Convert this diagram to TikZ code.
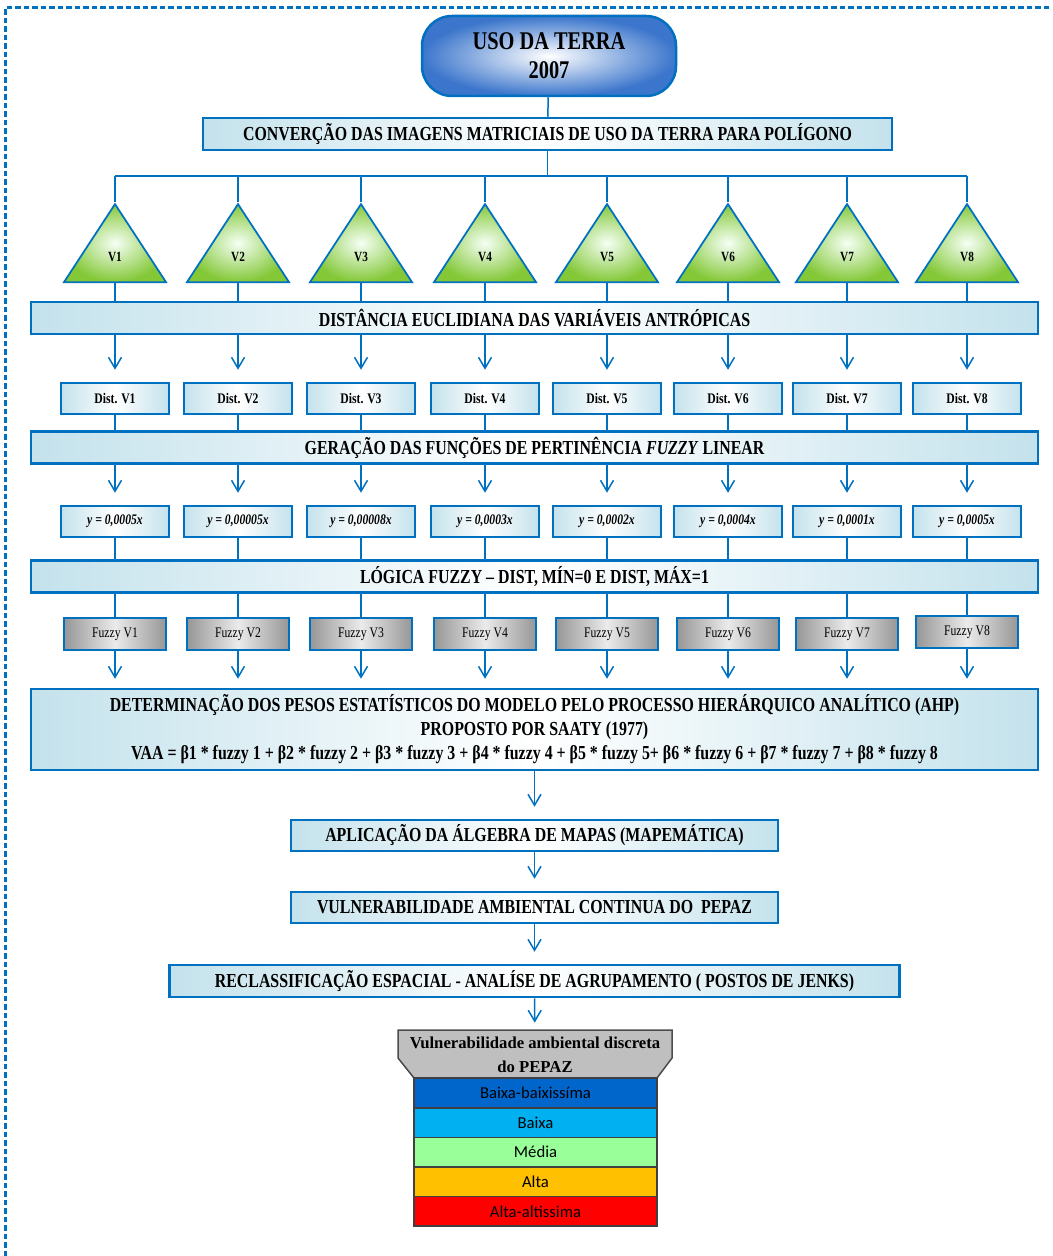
\documentclass[tikz,border=0pt]{standalone}
\usepackage{fontspec}
\setmainfont{Liberation Serif}
\newfontfamily\tnr{Liberation Serif}[FakeStretch=0.8]
\newfontfamily\legfont{Carlito}
\usetikzlibrary{positioning}
\usetikzlibrary{shapes.geometric}
\usetikzlibrary{arrows.meta}

\definecolor{azul}{RGB}{0,112,192}
\definecolor{azulesc}{RGB}{60,118,204}
\definecolor{ciano}{RGB}{196,226,236}
\definecolor{verde}{RGB}{132,200,56}
\definecolor{cinzaesc}{RGB}{150,150,150}
\definecolor{cinzacab}{RGB}{191,191,191}
\definecolor{cor1}{RGB}{0,102,204}
\definecolor{cor2}{RGB}{0,176,240}
\definecolor{cor3}{RGB}{153,255,153}
\definecolor{cor4}{RGB}{255,192,0}
\definecolor{cor5}{RGB}{255,0,0}

\tikzset{
  caixa/.style={draw=azul,line width=0.5mm,left color=ciano,right color=ciano,middle color=white,
    inner sep=0pt,font=\tnr\bfseries\fontsize{11.3}{13.6}\selectfont},
  barra/.style={caixa,minimum width=201.4mm,minimum height=6.4mm},
  pequena/.style={caixa,minimum width=21.6mm,minimum height=6.2mm,font=\tnr\bfseries\fontsize{8.3}{9}\selectfont},
  fz/.style={draw=azul,line width=0.5mm,left color=cinzaesc,right color=cinzaesc,middle color=white!92!black,
    inner sep=0pt,minimum width=20.4mm,minimum height=6.4mm,font=\tnr\fontsize{8.3}{9}\selectfont},
  tri/.style={isosceles triangle,shape border rotate=90,isosceles triangle stretches,
    minimum width=20.4mm,minimum height=15.6mm,inner sep=0pt,anchor=lower side,
    draw=azul,line width=0.35mm,inner color=green!4!white,outer color=verde,
    font=\tnr\bfseries\fontsize{8}{9}\selectfont},
  liga/.style={draw=azul,line width=0.3mm},
  seta/.style={liga,-{Straight Barb[length=2.2mm,width=2.6mm]},shorten >=2.4mm},
  faixa/.style={draw=black!75,line width=0.3mm,minimum width=48.6mm,minimum height=5.92mm,
    inner sep=0pt,outer sep=0pt,font=\legfont\fontsize{9.5}{10}\selectfont}
}

\begin{document}
\begin{tikzpicture}[x=0.2mm,y=-0.2mm]
\useasboundingbox (0,0) rectangle (1052,1256);
\draw[azul,line width=0.6mm,dash pattern=on 1.1mm off 0.6mm] (5,1256) -- (5,8) -- (1052,8);

% topo e conversao
\node[draw=azul,line width=0.5mm,rounded corners=6mm,inner color=white,outer color=azulesc,
  minimum width=50.8mm,minimum height=16mm,align=center,
  font=\tnr\bfseries\fontsize{14.5}{16.4}\selectfont] (uso) at (549,56) {USO DA TERRA\\2007};
\node[caixa,minimum width=137.8mm,minimum height=6.4mm] (conv) at (547.5,134)
  {CONVERÇÃO DAS IMAGENS MATRICIAIS DE USO DA TERRA PARA POLÍGONO};
\coordinate (bus) at (547.5,176);
\draw[liga] (uso) -- (conv);
\draw[liga] (conv) -- (bus);

% barras
\node[barra] (dist) at (534.5,318) {DISTÂNCIA EUCLIDIANA DAS VARIÁVEIS ANTRÓPICAS};
\node[barra] (ger) at (534.5,447.5) {GERAÇÃO DAS FUNÇÕES DE PERTINÊNCIA \textit{FUZZY} LINEAR};
\node[barra] (log) at (534.5,576.5) {LÓGICA FUZZY – DIST, MÍN=0 E DIST, MÁX=1};
\node[caixa,minimum width=201.4mm,minimum height=16.2mm,align=center] (ahp) at (534.5,729.5)
  {DETERMINAÇÃO DOS PESOS ESTATÍSTICOS DO MODELO PELO PROCESSO HIERÁRQUICO ANALÍTICO (AHP)\\
   PROPOSTO POR SAATY (1977)\\
   VAA = β1 * fuzzy 1 + β2 * fuzzy 2 + β3 * fuzzy 3 + β4 * fuzzy 4 + β5 * fuzzy 5+ β6 * fuzzy 6 + β7 * fuzzy 7 + β8 * fuzzy 8};

% colunas V1 ... V8
\foreach \i/\x/\f/\fy in {1/115/{0,0005x}/634, 2/238/{0,00005x}/634, 3/361/{0,00008x}/634, 4/485/{0,0003x}/634,
    5/607/{0,0002x}/634, 6/728/{0,0004x}/634, 7/847/{0,0001x}/634, 8/967/{0,0005x}/632}{
  \node[tri] (t\i) at (\x,283) {V\i};
  \node[pequena] (d\i) at (\x,398.5) {Dist. V\i};
  \node[pequena,font=\tnr\bfseries\itshape\fontsize{8.3}{9}\selectfont] (e\i) at (\x,521.5) {y = \f};
  \node[fz] (f\i) at (\x,\fy) {Fuzzy V\i};
  \draw[liga] (t\i.apex) -- (t\i.apex |- bus);
  \draw[liga] (t\i.lower side) -- (t\i.lower side |- dist.north);
  \draw[seta] (t\i.lower side |- dist.south) -- (d\i);
  \draw[liga] (d\i) -- (d\i |- ger.north);
  \draw[seta] (d\i |- ger.south) -- (e\i);
  \draw[liga] (e\i) -- (e\i |- log.north);
  \draw[liga] (e\i |- log.south) -- (f\i);
  \draw[seta,shorten >=1.8mm] (f\i) -- (f\i |- ahp.north);
}
\draw[liga] (t1.apex |- bus) -- (t8.apex |- bus);

% etapas finais
\node[caixa,minimum width=97.4mm,minimum height=6.2mm] (alg) at (534.5,835.5)
  {APLICAÇÃO DA ÁLGEBRA DE MAPAS (MAPEMÁTICA)};
\node[caixa,minimum width=97.4mm,minimum height=6.2mm] (vul) at (534.5,907.5)
  {VULNERABILIDADE AMBIENTAL CONTINUA DO\ \ PEPAZ};
\node[caixa,minimum width=146mm,minimum height=6.4mm] (rec) at (534.5,981)
  {RECLASSIFICAÇÃO ESPACIAL - ANALÍSE DE AGRUPAMENTO ( POSTOS DE JENKS)};
\draw[seta] (ahp) -- (alg);
\draw[seta] (alg) -- (vul);
\draw[seta] (vul) -- (rec);

% legenda
\filldraw[fill=cinzacab,draw=black!70,line width=0.3mm] (398,1030) -- (672,1030) -- (672,1058) -- (657,1078)
  -- (414,1078) -- (398,1058) -- cycle;
\node[minimum width=54.8mm,minimum height=9.6mm,inner sep=0pt,align=center,
  font=\bfseries\fontsize{9.5}{13.6}\selectfont] (cab) at (535,1055)
  {Vulnerabilidade ambiental discreta\\do PEPAZ};
\draw[seta,shorten >=1.6mm] (rec) -- (cab);
\node[faixa,fill=cor1] (r1) at (535.5,1093) {Baixa-baixissíma};
\node[faixa,fill=cor2,below=0pt of r1] (r2) {Baixa};
\node[faixa,fill=cor3,below=0pt of r2] (r3) {Média};
\node[faixa,fill=cor4,below=0pt of r3] (r4) {Alta};
\node[faixa,fill=cor5,below=0pt of r4] (r5) {Alta-altissima};
\end{tikzpicture}
\end{document}
